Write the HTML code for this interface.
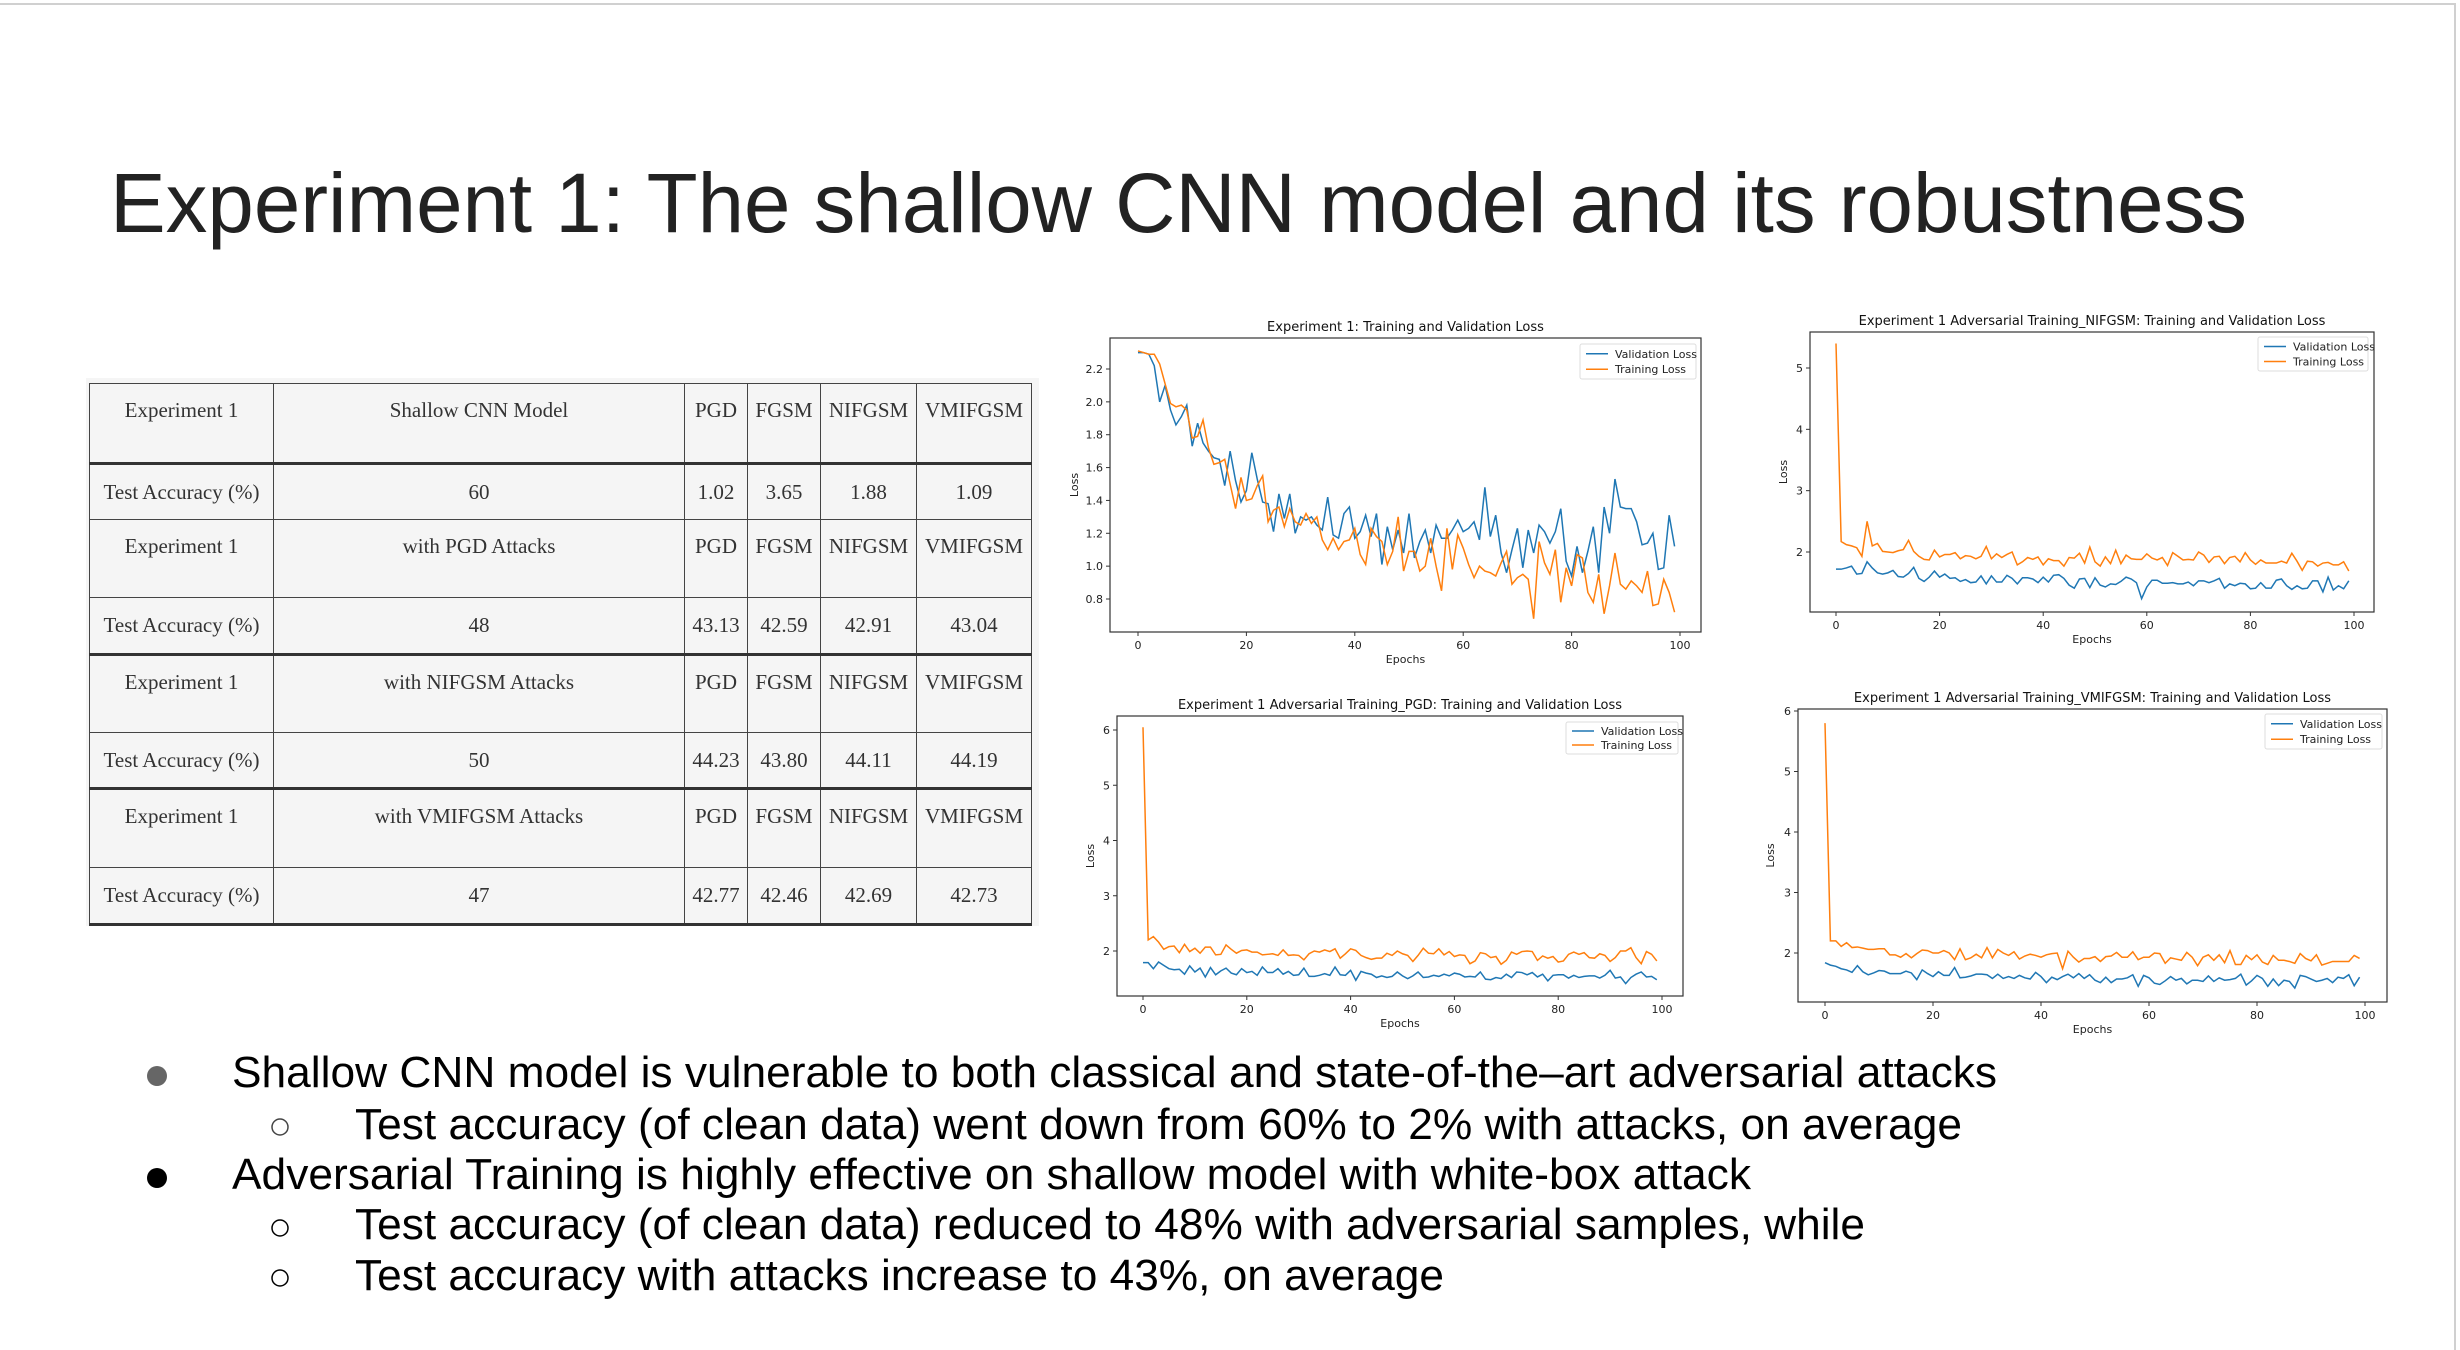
<!DOCTYPE html>
<html><head><meta charset="utf-8">
<style>
body{margin:0;width:2460px;height:1350px;background:#fff;position:relative;overflow:hidden;font-family:"Liberation Sans",sans-serif;}
#frameTop{position:absolute;left:0;top:3px;width:2456px;height:2px;background:#d0d0d0;}
#frameRight{position:absolute;left:2454px;top:3px;width:2px;height:1347px;background:#d0d0d0;}
#tblbg{position:absolute;left:86px;top:378px;width:953px;height:548px;background:#f5f5f5;}
table{position:absolute;left:89px;top:383px;border-collapse:collapse;font-family:"Liberation Serif",serif;font-size:21px;color:#333;}
td{border:1.5px solid #444;text-align:center;padding:0;}
tr.h td{vertical-align:top;padding-top:14px;}
tr.d td{vertical-align:middle;}
tr.thick td{border-top:3px solid #333;}
#charts text{font-family:"DejaVu Sans","Liberation Sans",sans-serif;}
.bl text{font-family:"Liberation Sans",sans-serif;}
</style></head>
<body>
<div id="frameTop"></div>
<div id="frameRight"></div>
<svg style="position:absolute;left:0;top:0" width="2460" height="300">
<text x="110" y="232" font-size="84" fill="#222" textLength="2137" lengthAdjust="spacingAndGlyphs" style="font-family:'Liberation Sans',sans-serif">Experiment 1:  The shallow CNN model and its robustness</text>
</svg>
<div id="tblbg"></div>
<table>
<colgroup><col style="width:184px"><col style="width:411px"><col style="width:63px"><col style="width:73px"><col style="width:96px"><col style="width:115px"></colgroup>
<tr class="h" style="height:80px"><td>Experiment 1</td><td>Shallow CNN Model</td><td>PGD</td><td>FGSM</td><td>NIFGSM</td><td>VMIFGSM</td></tr>
<tr class="d thick" style="height:56px"><td>Test Accuracy (%)</td><td>60</td><td>1.02</td><td>3.65</td><td>1.88</td><td>1.09</td></tr>
<tr class="h" style="height:78px"><td>Experiment 1</td><td>with PGD Attacks</td><td>PGD</td><td>FGSM</td><td>NIFGSM</td><td>VMIFGSM</td></tr>
<tr class="d" style="height:57px"><td>Test Accuracy (%)</td><td>48</td><td>43.13</td><td>42.59</td><td>42.91</td><td>43.04</td></tr>
<tr class="h thick" style="height:78px"><td>Experiment 1</td><td>with NIFGSM Attacks</td><td>PGD</td><td>FGSM</td><td>NIFGSM</td><td>VMIFGSM</td></tr>
<tr class="d" style="height:56px"><td>Test Accuracy (%)</td><td>50</td><td>44.23</td><td>43.80</td><td>44.11</td><td>44.19</td></tr>
<tr class="h thick" style="height:79px"><td>Experiment 1</td><td>with VMIFGSM Attacks</td><td>PGD</td><td>FGSM</td><td>NIFGSM</td><td>VMIFGSM</td></tr>
<tr class="d" style="height:57px;border-bottom:3px solid #333"><td>Test Accuracy (%)</td><td>47</td><td>42.77</td><td>42.46</td><td>42.69</td><td>42.73</td></tr>
</table>

<svg id="charts" style="position:absolute;left:0;top:0" width="2460" height="1350"></svg>

<svg class="bl" style="position:absolute;left:0;top:1040px" width="2460" height="300">
<g font-size="44" fill="#000">
<circle cx="157" cy="36" r="10" fill="#666"/>
<text x="232" y="47" textLength="1765" lengthAdjust="spacingAndGlyphs">Shallow CNN model is vulnerable to both classical and state-of-the–art adversarial attacks</text>
<circle cx="280" cy="87" r="8" fill="none" stroke="#444" stroke-width="1.5"/>
<text x="355" y="99" textLength="1607" lengthAdjust="spacingAndGlyphs">Test accuracy (of clean data) went down from 60% to 2% with attacks, on average</text>
<circle cx="157" cy="138" r="10" fill="#000"/>
<text x="232" y="149" textLength="1519" lengthAdjust="spacingAndGlyphs">Adversarial Training is highly effective on shallow model with white-box attack</text>
<circle cx="280" cy="188" r="8" fill="none" stroke="#000" stroke-width="1.5"/>
<text x="355" y="199" textLength="1510" lengthAdjust="spacingAndGlyphs">Test accuracy (of clean data) reduced to 48% with adversarial samples, while</text>
<circle cx="280" cy="238" r="8" fill="none" stroke="#000" stroke-width="1.5"/>
<text x="355" y="250" textLength="1089" lengthAdjust="spacingAndGlyphs">Test accuracy with attacks increase to 43%, on average</text>
</g></svg>

<script>
const epochTicks=[0,20,40,60,80,100];
const yTicks1=[0.8,1.0,1.2,1.4,1.6,1.8,2.0,2.2];
const yTicks2=[2,3,4,5];
const yTicks3=[2,3,4,5,6];
const yTicks4=[2,3,4,5,6];
const c1Val=[2.30,2.30,2.29,2.22,2.00,2.10,1.95,1.86,1.91,1.98,1.73,1.87,1.75,1.70,1.66,1.65,1.49,1.70,1.52,1.39,1.46,1.69,1.53,1.39,1.38,1.21,1.44,1.29,1.44,1.20,1.30,1.28,1.30,1.25,1.22,1.42,1.19,1.17,1.32,1.36,1.17,1.21,1.31,1.18,1.32,1.01,1.24,1.10,1.22,1.08,1.32,1.05,1.15,1.22,1.08,1.25,1.17,1.17,1.22,1.28,1.21,1.23,1.27,1.16,1.48,1.18,1.31,1.08,0.96,1.10,1.23,0.99,1.22,1.08,1.25,1.21,1.14,1.21,1.35,1.03,0.94,1.12,0.96,1.09,1.24,0.96,1.36,1.20,1.53,1.36,1.35,1.35,1.27,1.13,1.14,1.20,0.98,0.99,1.31,1.12];
const c1Train=[2.31,2.30,2.29,2.29,2.23,2.11,1.99,1.97,1.98,1.95,1.78,1.79,1.89,1.72,1.62,1.63,1.65,1.50,1.35,1.54,1.40,1.41,1.49,1.55,1.27,1.34,1.36,1.24,1.35,1.27,1.25,1.32,1.26,1.30,1.16,1.10,1.17,1.10,1.15,1.16,1.23,1.07,1.01,1.23,1.18,1.15,1.01,1.09,1.30,0.97,1.09,1.09,0.97,1.00,1.17,1.00,0.85,1.23,0.98,1.19,1.11,1.01,0.93,1.00,0.97,0.96,0.94,1.02,1.09,0.89,0.93,0.95,0.92,0.68,1.15,1.02,0.95,1.10,0.78,0.99,0.88,1.07,1.05,0.84,0.78,0.95,0.71,0.88,1.08,0.89,0.86,0.91,0.88,0.84,0.97,0.76,0.77,0.92,0.84,0.72];
const c2Train=[5.4,2.17,2.12,2.10,2.07,1.93,2.5,2.10,2.14,2.01,2.00,1.99,2.02,2.04,2.19,2.01,1.93,1.88,1.87,2.03,1.92,1.96,1.96,1.99,1.89,1.94,1.93,1.89,1.93,2.09,1.89,1.97,1.91,1.96,2.00,1.79,1.84,1.91,1.88,1.92,1.79,1.89,1.86,1.86,1.77,1.91,1.90,1.98,1.82,2.08,1.84,1.77,1.92,1.81,2.03,1.81,1.95,1.89,1.88,1.88,1.97,1.90,1.87,1.91,1.78,1.99,1.93,1.87,1.88,1.87,2.00,1.95,1.83,1.92,1.93,1.81,1.91,1.93,1.84,1.99,1.87,1.80,1.87,1.82,1.82,1.82,1.85,1.82,1.98,1.85,1.70,1.85,1.84,1.77,1.82,1.83,1.79,1.79,1.84,1.69];
const c2Val=[1.72,1.72,1.74,1.77,1.64,1.65,1.84,1.74,1.66,1.64,1.66,1.70,1.60,1.59,1.65,1.75,1.57,1.52,1.59,1.69,1.59,1.64,1.57,1.58,1.52,1.55,1.50,1.51,1.61,1.48,1.61,1.51,1.51,1.62,1.57,1.48,1.58,1.58,1.56,1.50,1.59,1.51,1.62,1.63,1.57,1.46,1.41,1.56,1.57,1.42,1.58,1.46,1.43,1.48,1.47,1.52,1.59,1.56,1.50,1.24,1.43,1.54,1.54,1.49,1.49,1.50,1.48,1.48,1.51,1.45,1.53,1.53,1.50,1.53,1.57,1.41,1.48,1.45,1.49,1.48,1.40,1.41,1.50,1.41,1.41,1.54,1.56,1.45,1.39,1.45,1.40,1.41,1.53,1.53,1.35,1.59,1.38,1.45,1.40,1.53];
const c3Train=[6.05,2.20,2.26,2.16,2.03,2.08,2.09,1.97,2.12,1.99,2.05,1.96,2.07,2.07,1.93,1.94,2.11,2.03,1.96,2.01,2.02,1.98,1.98,1.93,1.94,1.95,1.92,2.02,1.92,1.93,1.92,1.84,1.95,2.00,1.98,2.02,1.99,2.04,1.87,1.95,2.04,2.01,1.92,1.88,1.85,1.87,1.87,1.96,1.92,2.00,1.95,1.92,1.81,1.92,2.05,1.96,1.95,2.04,1.93,1.99,1.90,1.93,1.92,1.77,1.82,1.97,1.95,1.88,1.90,1.76,1.83,1.98,1.94,1.99,2.00,1.99,1.83,1.91,1.87,1.90,1.80,1.82,1.94,1.98,1.94,1.97,1.88,1.87,1.95,1.92,1.81,1.88,2.00,2.00,2.06,1.88,1.77,1.99,1.94,1.82];
const c3Val=[1.79,1.79,1.68,1.80,1.74,1.68,1.66,1.67,1.58,1.73,1.62,1.69,1.53,1.70,1.57,1.64,1.69,1.60,1.57,1.68,1.61,1.63,1.56,1.71,1.61,1.61,1.68,1.58,1.63,1.56,1.57,1.69,1.54,1.54,1.56,1.59,1.56,1.71,1.57,1.56,1.65,1.47,1.63,1.60,1.58,1.52,1.55,1.52,1.54,1.62,1.55,1.50,1.55,1.62,1.52,1.53,1.56,1.54,1.58,1.55,1.60,1.58,1.53,1.54,1.53,1.62,1.49,1.48,1.52,1.50,1.58,1.52,1.62,1.61,1.57,1.61,1.53,1.58,1.46,1.56,1.57,1.57,1.51,1.56,1.52,1.54,1.55,1.55,1.51,1.56,1.65,1.51,1.53,1.41,1.52,1.58,1.62,1.53,1.54,1.48];
const c4Train=[5.8,2.20,2.20,2.11,2.17,2.09,2.10,2.08,2.06,2.06,2.07,2.07,1.97,1.97,1.93,1.99,1.92,1.99,2.05,2.04,2.00,2.00,2.04,2.00,1.89,2.07,1.89,1.92,1.98,1.92,2.09,1.92,2.06,2.00,1.96,2.02,1.90,1.95,1.98,1.96,1.93,1.97,1.99,2.00,1.74,2.03,1.93,1.85,1.91,1.91,1.94,1.86,1.94,1.95,2.01,1.93,1.93,2.02,1.89,1.93,1.93,2.00,1.99,1.83,1.92,1.90,1.88,2.01,1.93,1.79,1.93,1.97,1.88,1.97,1.84,2.04,1.81,1.81,1.96,1.89,1.97,1.85,1.81,1.96,1.88,1.88,1.86,1.83,1.99,1.91,1.87,1.97,1.80,1.83,1.86,1.86,1.86,1.86,1.96,1.91];
const c4Val=[1.84,1.80,1.78,1.74,1.72,1.68,1.79,1.69,1.64,1.67,1.71,1.70,1.66,1.66,1.66,1.70,1.67,1.56,1.72,1.66,1.61,1.69,1.63,1.63,1.76,1.59,1.60,1.62,1.65,1.65,1.64,1.58,1.65,1.58,1.61,1.58,1.63,1.59,1.57,1.68,1.61,1.51,1.60,1.56,1.61,1.65,1.59,1.66,1.58,1.64,1.55,1.51,1.60,1.51,1.57,1.57,1.59,1.64,1.45,1.63,1.59,1.50,1.48,1.54,1.61,1.55,1.58,1.49,1.55,1.55,1.53,1.62,1.53,1.59,1.55,1.56,1.58,1.65,1.47,1.54,1.63,1.58,1.45,1.57,1.46,1.55,1.53,1.42,1.63,1.61,1.57,1.53,1.55,1.58,1.51,1.60,1.58,1.64,1.46,1.60];

const NS='http://www.w3.org/2000/svg';
const root=document.getElementById('charts');
function mk(tag,attrs,parent){const e=document.createElementNS(NS,tag);for(const k in attrs)e.setAttribute(k,attrs[k]);parent.appendChild(e);return e;}

function chart(cfg,val,train,yt){
  const g=mk('g',{},root);
  
  
  const xs=v=>cfg.x0+(cfg.x100-cfg.x0)*v/100;
  const ys=v=>cfg.yA+(cfg.yB-cfg.yA)*(v-cfg.vA)/(cfg.vB-cfg.vA);
  const t=mk('text',{x:(cfg.l+cfg.r)/2,y:cfg.t-7,'font-size':13,'text-anchor':'middle',fill:'#111'},g);
  t.textContent=cfg.title;
  
  
  yt.forEach(v=>{
    const y=ys(v);
    mk('line',{x1:cfg.l-4,x2:cfg.l,y1:y,y2:y,stroke:'#333','stroke-width':1},g);
    const lb=mk('text',{x:cfg.l-7,y:y+4,'font-size':11,'text-anchor':'end',fill:'#222'},g);
    lb.textContent=cfg.fmt?v.toFixed(1):String(v);
    
    
  });
  epochTicks.forEach(v=>{
    const x=xs(v);
    mk('line',{x1:x,x2:x,y1:cfg.b,y2:cfg.b+4,stroke:'#333','stroke-width':1},g);
    const lb=mk('text',{x:x,y:cfg.b+17,'font-size':11,'text-anchor':'middle',fill:'#222'},g);
    lb.textContent=String(v);
    
    
  });
  const xl=mk('text',{x:(cfg.l+cfg.r)/2,y:cfg.b+31,'font-size':11,'text-anchor':'middle',fill:'#222'},g);
  xl.textContent='Epochs';
  
  
  const ly=(cfg.t+cfg.b)/2;
  const yl=mk('text',{x:cfg.lossX,y:ly,'font-size':11,'text-anchor':'middle',fill:'#222',transform:'rotate(-90 '+cfg.lossX+' '+ly+')'},g);
  yl.textContent='Loss';
  
  
  const pv=mk('polyline',{points:val.map((v,i)=>xs(i)+','+ys(v)).join(' '),fill:'none',stroke:'#1f77b4','stroke-width':1.5},g);
  
  
  const pt=mk('polyline',{points:train.map((v,i)=>xs(i)+','+ys(v)).join(' '),fill:'none',stroke:'#ff7f0e','stroke-width':1.5},g);
  
  
  const box=mk('rect',{x:cfg.l,y:cfg.t,width:cfg.r-cfg.l,height:cfg.b-cfg.t,fill:'none',stroke:'#333','stroke-width':1.2},g);
  
  
  const L=cfg.leg;
  const lg=mk('g',{},g);
  
  
  mk('rect',{x:L[0],y:L[1],width:L[2]-L[0],height:L[3]-L[1],fill:'#fff',stroke:'#ddd','stroke-width':1,rx:2},lg);
  const h=(L[3]-L[1]);
  [['Validation Loss','#1f77b4'],['Training Loss','#ff7f0e']].forEach((e,k)=>{
    const yy=L[1]+h*(0.28+0.44*k);
    mk('line',{x1:L[0]+6,x2:L[0]+28,y1:yy,y2:yy,stroke:e[1],'stroke-width':1.5},lg);
    const tx=mk('text',{x:L[0]+35,y:yy+4,'font-size':11,fill:'#222'},lg);
    tx.textContent=e[0];
    
    
  });
}
chart({name:'chart-exp1-loss',title:'Experiment 1: Training and Validation Loss',l:1110,r:1701,t:338,b:632,x0:1138,x100:1680,vA:2.2,yA:369,vB:0.8,yB:599,fmt:true,lossX:1078,leg:[1580,344,1696,379]},c1Val,c1Train,yTicks1);
chart({name:'chart-nifgsm-loss',title:'Experiment 1 Adversarial Training_NIFGSM: Training and Validation Loss',l:1810,r:2374,t:332,b:612,x0:1836,x100:2354,vA:5,yA:368,vB:2,yB:552,lossX:1787,leg:[2258,337,2368,371]},c2Val,c2Train,yTicks2);
chart({name:'chart-pgd-loss',title:'Experiment 1 Adversarial Training_PGD: Training and Validation Loss',l:1117,r:1683,t:716,b:996,x0:1143,x100:1662,vA:6,yA:730,vB:2,yB:951,lossX:1094,leg:[1566,722,1678,754]},c3Val,c3Train,yTicks3);
chart({name:'chart-vmifgsm-loss',title:'Experiment 1 Adversarial Training_VMIFGSM: Training and Validation Loss',l:1798,r:2387,t:709,b:1002,x0:1825,x100:2365,vA:6,yA:711,vB:2,yB:953,lossX:1774,leg:[2265,714,2382,749]},c4Val,c4Train,yTicks4);
</script>
</body></html>
